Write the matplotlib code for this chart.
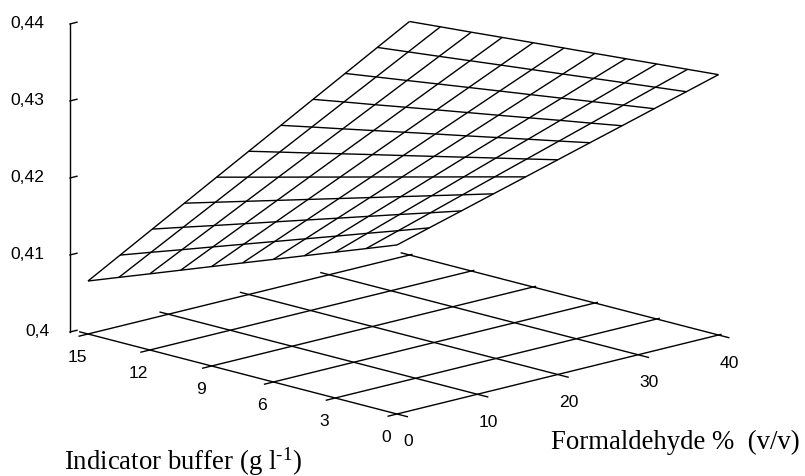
import numpy as np
import matplotlib
matplotlib.use("Agg")
import matplotlib.pyplot as plt
from mpl_toolkits.mplot3d import proj3d

# ---- data ----
formaldehyde = [0, 4, 8, 12, 16, 20, 24, 28, 32, 36, 40]
indicator = [0, 1.5, 3, 4.5, 6, 7.5, 9, 10.5, 12, 13.5, 15]
response = [
    [.42195, .42314, .42432, .42551, .42669, .42788, .42907, .43025, .43144, .43262, .43381],
    [.42044, .42174, .42304, .42435, .42565, .42695, .42825, .42955, .43086, .43216, .43346],
    [.41894, .42036, .42178, .42319, .42461, .42603, .42745, .42887, .43028, .43170, .43312],
    [.41743, .41896, .42050, .42203, .42356, .42510, .42663, .42816, .42969, .43123, .43276],
    [.41592, .41757, .41922, .42087, .42252, .42417, .42581, .42746, .42911, .43076, .43241],
    [.41442, .41618, .41795, .41971, .42148, .42324, .42501, .42677, .42854, .43030, .43207],
    [.41291, .41479, .41667, .41855, .42043, .42232, .42420, .42608, .42796, .42984, .43172],
    [.41140, .41340, .41539, .41739, .41939, .42139, .42338, .42538, .42738, .42937, .43137],
    [.40989, .41200, .41411, .41623, .41834, .42045, .42256, .42467, .42679, .42890, .43101],
    [.40839, .41062, .41285, .41507, .41730, .41953, .42176, .42399, .42621, .42844, .43067],
    [.40688, .40922, .41157, .41391, .41626, .41860, .42094, .42329, .42563, .42798, .43032],
]
x_ticks = [0, 10, 20, 30, 40]
y_ticks = [0, 3, 6, 9, 12, 15]
z_ticks = [0.40, 0.41, 0.42, 0.43, 0.44]
z_labels = ["0,4", "0,41", "0,42", "0,43", "0,44"]
x_title = "Formaldehyde %  (v/v)"
y_title = r"Indicator buffer (g l$^{\text{-1}}$)"

# ---- styles ----
W, H = 805, 477
LW = 1.0
NARROW = ["Liberation Sans Narrow", "Liberation Sans", "DejaVu Sans"]
SERIF = ["Liberation Serif", "DejaVu Serif"]
TICK_FS = 12.6
plt.rcParams["mathtext.fontset"] = "custom"
plt.rcParams["mathtext.rm"] = "Liberation Serif"
plt.rcParams["mathtext.default"] = "rm"

fig = plt.figure(figsize=(W / 100, H / 100), dpi=100, facecolor="white")
ax = fig.add_axes([0, 0, 1, 1], projection="3d", proj_type="ortho")
ax.set_axis_off()
ax.patch.set_visible(False)
ax.view_init(elev=14.61, azim=-134.25)
ax.set_xlim(0, 40)
ax.set_ylim(0, 15)
ax.set_zlim(0.40, 0.44)
aspect = (448.8, 442.8, 318.3)


def to_px(x, y, z):
    ax.apply_aspect()
    a, b, _ = proj3d.proj_transform(x, y, z, ax.get_proj())
    return ax.transData.transform((a, b))


# scale and shift so the floor lands where it does in the reference
ax.set_box_aspect(aspect, zoom=1)
p0 = to_px(0, 0, 0.40)
p1 = to_px(40, 0, 0.40)
ax.set_box_aspect(aspect, zoom=np.hypot(321.5, 79) / np.hypot(*(p1 - p0)))
p0 = to_px(0, 0, 0.40)
shift = np.array([397, H - 415]) - p0
ax.set_position([shift[0] / W, shift[1] / H, 1, 1])

# surface
X, Y = np.meshgrid(formaldehyde, indicator)
Z = np.array(response)
wire = ax.plot_wireframe(X, Y, Z, rstride=1, cstride=1, color="black", linewidth=LW)
wire.set_clip_on(False)

# floor grid with tick stubs
for xv in x_ticks:
    ax.plot([xv, xv], [-0.5, 15.4], [0.40, 0.40], color="black", lw=LW, clip_on=False)
for yv in y_ticks:
    ax.plot([-1.1, 40.3], [yv, yv], [0.40, 0.40], color="black", lw=LW, clip_on=False)

# vertical axis
zx, zy = -0.65, 15.62
ax.plot([zx, zx], [zy, zy], [0.40, 0.44], color="black", lw=LW, clip_on=False)
for zv in z_ticks:
    ax.plot([zx, zx + 0.87], [zy, zy], [zv, zv], color="black", lw=LW, clip_on=False)


def label(px, text, ha="center"):
    fig.text(px[0] / W, px[1] / H, text, family=NARROW, fontsize=TICK_FS,
             ha=ha, va="center", color="black")


# tick labels, placed from the projected tick positions
for xv in x_ticks:
    label(to_px(xv, 0, 0.40) + np.array([11, -27]), str(xv))
for yv in y_ticks:
    label(to_px(0, yv, 0.40) + np.array([-11, -23]), str(yv))
for zv, lab in zip(z_ticks, z_labels):
    right = 20 if lab == "0,4" else 26
    label(to_px(zx, zy, zv) + np.array([-right, 1]), lab, ha="right")

# axis titles
fig.text(551 / W, 1 - 449 / H, x_title, family=SERIF, fontsize=19.3,
         ha="left", va="baseline", color="black")
fig.text(64 / W, 1 - 469.5 / H, y_title, family=SERIF, fontsize=19.3,
         ha="left", va="baseline", color="black")

fig.savefig("out.png", dpi=100)
